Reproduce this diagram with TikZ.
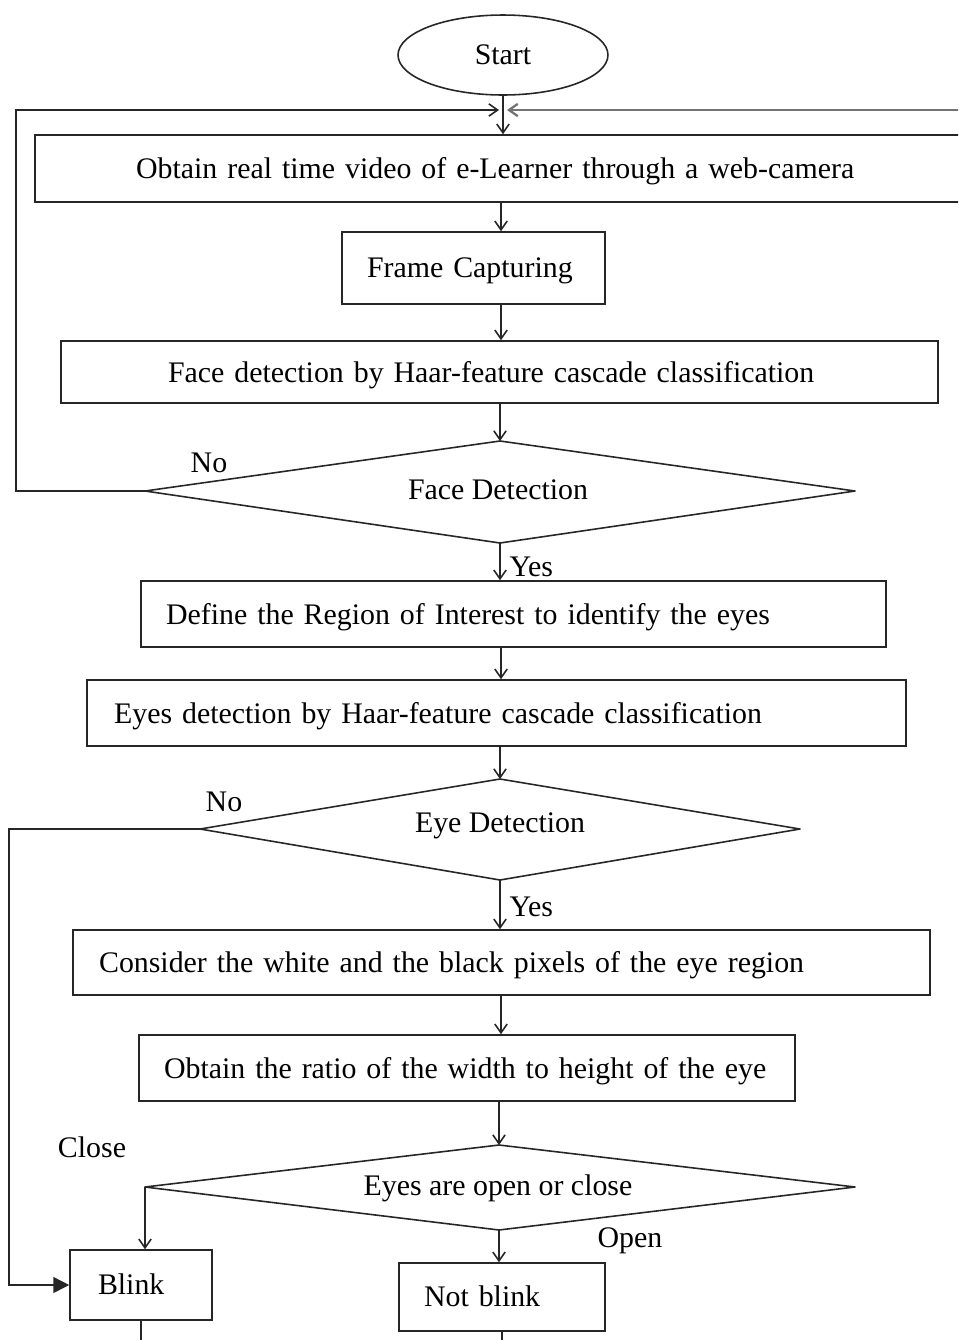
\documentclass[tikz,border=0pt]{standalone}
\usepackage{fontspec}
\setmainfont{Liberation Serif}
\usetikzlibrary{shapes.geometric,arrows.meta}
\begin{document}
\begin{tikzpicture}[x=0.02cm,y=-0.02cm,
  every node/.style={font=\fontsize{17}{20}\selectfont},
  flowline/.style={line width=0.9pt,draw=black!85},
  arr/.style={flowline,-{Straight Barb[length=5pt,width=7pt]}},
  stepbox/.style={draw=black!85,line width=0.9pt,align=left,inner ysep=0pt,text depth=0.1ex},
  decision/.style={draw=black!85,line width=0.9pt,line join=round},
  lbl/.style={inner sep=0pt}]
\path[use as bounding box,clip] (0,0) rectangle (958,1340);

% start
\node[draw=black!85,line width=0.9pt,ellipse,minimum width=4.2cm,minimum height=1.6cm] (start) at (503,55) {Start};

% process steps
\node[stepbox,minimum height=1.34cm,inner xsep=2.02cm,text width=14.76cm] (b1) at (505,168.5)
  {Obtain real time video of e-Learner through a web-camera};
\node[stepbox,minimum height=1.44cm,inner xsep=0.5cm,text width=4.26cm] (b2) at (473.5,268)
  {Frame Capturing};
\node[stepbox,minimum height=1.24cm,inner xsep=2.14cm,text width=13.26cm] (b3) at (499.5,372)
  {Face detection by Haar-feature cascade classification};
\node[stepbox,minimum height=1.32cm,inner xsep=0.5cm,text width=13.9cm] (b4) at (513.5,614)
  {Define the Region of Interest to identify the eyes};
\node[stepbox,minimum height=1.32cm,inner xsep=0.54cm,text width=15.3cm] (b5) at (496.5,713)
  {Eyes detection by Haar-feature cascade classification};
\node[stepbox,minimum height=1.3cm,inner xsep=0.52cm,text width=16.1cm] (b6) at (501.5,962.5)
  {Consider the white and the black pixels of the eye region};
\node[stepbox,minimum height=1.32cm,inner xsep=0.5cm,text width=12.12cm] (b7) at (467,1068)
  {Obtain the ratio of the width to height of the eye};
\node[stepbox,minimum height=1.4cm,inner xsep=0.56cm,text width=1.72cm] (blink) at (141,1285) {Blink};
\node[stepbox,minimum height=1.36cm,inner xsep=0.5cm,text width=3.12cm] (nb) at (502,1297) {Not blink};

% decisions: corner points, outline and text
\coordinate (d1n) at (500,441);  \coordinate (d1s) at (500,543);
\coordinate (d1w) at (145,491);  \coordinate (d1e) at (855,491);
\draw[decision] (d1n) -- (d1e) -- (d1s) -- (d1w) -- cycle;
\node (d1) at (498,490) {Face Detection};

\coordinate (d2n) at (500,779);  \coordinate (d2s) at (500,880);
\coordinate (d2w) at (200,829);  \coordinate (d2e) at (800,829);
\draw[decision] (d2n) -- (d2e) -- (d2s) -- (d2w) -- cycle;
\node (d2) at (500,826) {Eye Detection};

\coordinate (d3n) at (499,1145); \coordinate (d3s) at (499,1230);
\coordinate (d3w) at (145,1187); \coordinate (d3e) at (855,1187);
\draw[decision] (d3n) -- (d3e) -- (d3s) -- (d3w) -- cycle;
\node (d3) at (498,1188) {Eyes are open or close};

% branch labels
\node[lbl] (no1) at (209,463) {No};
\node[lbl] (no2) at (224,802) {No};
\node[lbl] (close) at (92,1147) {Close};
\node[lbl] (open) at (630,1241) {Open};

% helper points
\coordinate (spine) at (501,0);
\coordinate (mergeL) at (499,110);
\coordinate (mergeR) at (507,110);
\coordinate (loopA) at (16,110);
\coordinate (rightIn) at (965,110);
\coordinate (loopB) at (9,1285);
\coordinate (bottomEdge) at (0,1350);

% main flow
\draw[arr] (start.south) -- (start.south |- b1.north);
\draw[arr] (spine |- b1.south) -- (spine |- b2.north);
\draw[arr] (spine |- b2.south) -- (spine |- b3.north);
\draw[arr] (d1n |- b3.south) -- (d1n);
\draw[arr] (d1s) -- node[right,lbl,xshift=5pt,yshift=-3pt] (yes1) {Yes} (d1s |- b4.north);
\draw[arr] (spine |- b4.south) -- (spine |- b5.north);
\draw[arr] (d2n |- b5.south) -- (d2n);
\draw[arr] (d2s) -- node[right,lbl,xshift=5pt,yshift=-1pt] (yes2) {Yes} (d2s |- b6.north);
\draw[arr] (spine |- b6.south) -- (spine |- b7.north);
\draw[arr] (d3n |- b7.south) -- (d3n);
\draw[arr] (d3w) -- (d3w |- blink.north);
\draw[arr] (d3s) -- (d3s |- nb.north);

% loops back to the top
\draw[arr] (d1w) -| (loopA) -- (mergeL);
\draw[line width=1.3pt,draw=black!55,-{Straight Barb[length=5pt,width=7pt]}] (rightIn) -- (mergeR);
\draw[flowline,-{Triangle[length=9pt,width=9pt]}] (d2w) -| (loopB) -- (blink.west);

% continuations below
\draw[flowline] (blink.south) -- (blink.south |- bottomEdge);
\draw[flowline] (nb.south) -- (nb.south |- bottomEdge);
\end{tikzpicture}
\end{document}
